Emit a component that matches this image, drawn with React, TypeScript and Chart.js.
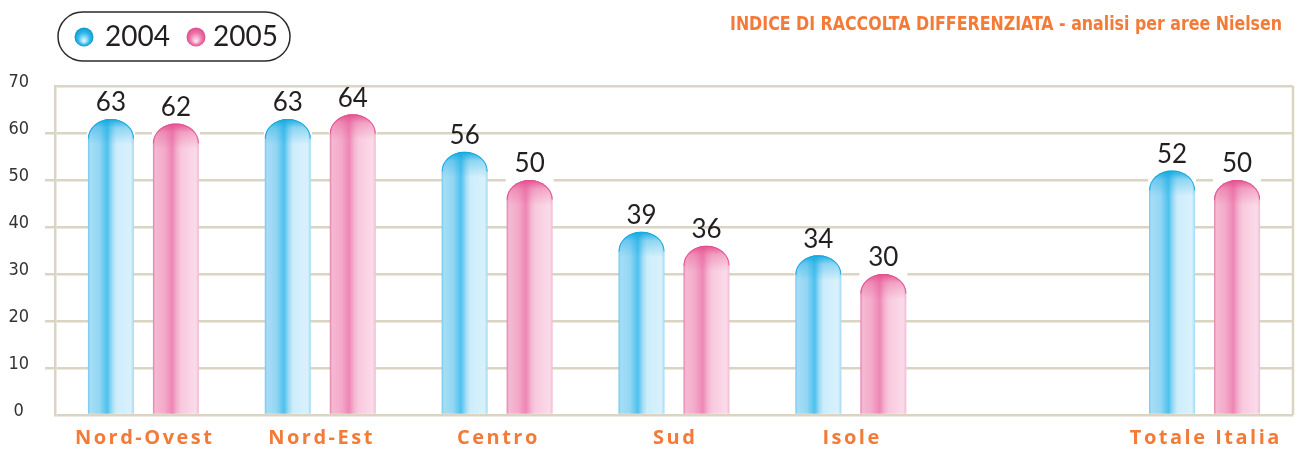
import { useEffect, useRef } from 'react';
import { Chart, registerables } from 'chart.js';

Chart.register(...registerables);

const categories = ['Nord-Ovest', 'Nord-Est', 'Centro', 'Sud', 'Isole', '', 'Totale Italia'];
const values2004 = [63, 63, 56, 39, 34, null, 52];
const values2005 = [62, 64, 50, 36, 30, null, 50];
const seriesLabels = ['2004', '2005'];
const yMin = 0;
const yMax = 70;
const yStep = 10;
const titleText = 'INDICE DI RACCOLTA DIFFERENZIATA - analisi per aree Nielsen';

const ORANGE = '#f47a38';
const GRID = '#d9d5c2';

const palettes = [
  {
    stops: [
      [0, '#72c8ee'], [0.05, '#a6ddf6'], [0.25, '#93d6f4'], [0.42, '#4cc1ee'],
      [0.53, '#a4ddf6'], [0.62, '#cdedfb'], [0.93, '#d8f1fc'], [1, '#a2daf3'],
    ],
    rim: 'rgba(18,168,224,0.95)',
    ball: ['#d4f2fd', '#31b9eb', '#0d95cc'],
  },
  {
    stops: [
      [0, '#e57fad'], [0.05, '#f5b9d3'], [0.25, '#f3aac9'], [0.42, '#ee86b5'],
      [0.53, '#f4b4cf'], [0.62, '#f8c9dd'], [0.93, '#fbdbe9'], [1, '#f1bcd4'],
    ],
    rim: 'rgba(228,78,142,0.95)',
    ball: ['#fde0ec', '#ee74a9', '#d84c8a'],
  },
];

const customPlugin = {
  id: 'customDraw',
  afterDatasetsDraw(chart: any) {
    const ctx: CanvasRenderingContext2D = chart.ctx;
    const area = chart.chartArea;
    ctx.save();
    ctx.strokeStyle = GRID;
    ctx.lineWidth = 2.5;
    ctx.beginPath();
    ctx.moveTo(area.right, area.top);
    ctx.lineTo(area.right, area.bottom);
    ctx.stroke();
    ctx.restore();

    chart.data.datasets.forEach((ds: any, di: number) => {
      const meta = chart.getDatasetMeta(di);
      const pal = palettes[di];
      meta.data.forEach((el: any, i: number) => {
        const v = ds.data[i];
        if (v === null || v === undefined) return;
        const { x, y, base, width } = el.getProps(['x', 'y', 'base', 'width'], true);
        const r = width / 2;
        const ry = r * 0.85;
        const left = x - r;
        ctx.save();
        ctx.fillStyle = '#ffffff';
        ctx.fillRect(left - 1, y - 1, width + 2, ry + 1);
        ctx.beginPath();
        ctx.moveTo(left, base);
        ctx.lineTo(left, y + ry);
        ctx.ellipse(x, y + ry, r, ry, 0, Math.PI, 0);
        ctx.lineTo(left + width, base);
        ctx.closePath();
        const g = ctx.createLinearGradient(left, 0, left + width, 0);
        pal.stops.forEach(([o, c]: any) => g.addColorStop(o, c));
        ctx.fillStyle = g;
        ctx.fill();
        ctx.clip();
        const vg = ctx.createLinearGradient(0, y, 0, y + ry * 1.3);
        vg.addColorStop(0, pal.rim);
        vg.addColorStop(0.35, pal.rim.replace('0.95', '0.35'));
        vg.addColorStop(1, pal.rim.replace('0.95', '0'));
        ctx.fillStyle = vg;
        ctx.fillRect(left, y, width, ry * 1.3);
        ctx.beginPath();
        ctx.ellipse(x, y + ry, r, ry, 0, Math.PI, 0);
        ctx.strokeStyle = pal.rim;
        ctx.lineWidth = 2;
        ctx.stroke();
        ctx.restore();

        ctx.save();
        ctx.fillStyle = '#231f20';
        ctx.font = '26px Lato, "Open Sans", sans-serif';
        ctx.textAlign = 'center';
        ctx.textBaseline = 'bottom';
        ctx.fillText(String(v), x, y - 3);
        ctx.restore();
      });
    });

    const xScale = chart.scales.x;
    ctx.save();
    ctx.fillStyle = ORANGE;
    ctx.font = 'bold 20px "Open Sans", "DejaVu Sans", sans-serif';
    (ctx as any).letterSpacing = '2.5px';
    ctx.textAlign = 'center';
    ctx.textBaseline = 'middle';
    categories.forEach((c, i) => {
      if (!c) return;
      ctx.fillText(c, xScale.getPixelForTick(i) + 1.25, 438);
    });
    ctx.restore();
  },
  afterDraw(chart: any) {
    const ctx: CanvasRenderingContext2D = chart.ctx;
    ctx.save();
    ctx.fillStyle = ORANGE;
    ctx.font = 'bold 19px "DejaVu Sans Condensed", "DejaVu Sans", sans-serif';
    ctx.textBaseline = 'alphabetic';
    const w = ctx.measureText(titleText).width;
    const target = 552;
    const sx = target / w;
    ctx.translate(1282 - target, 29.5);
    ctx.scale(sx, 1);
    ctx.fillText(titleText, 0, 0);
    ctx.restore();

    ctx.save();
    const lx = 58, ly = 12, lw = 232, lh = 49, lr = 24.5;
    ctx.beginPath();
    ctx.roundRect(lx, ly, lw, lh, lr);
    ctx.fillStyle = '#ffffff';
    ctx.fill();
    ctx.strokeStyle = '#2b2b2b';
    ctx.lineWidth = 1.5;
    ctx.stroke();
    const items = [
      { cx: 84, tx: 105 },
      { cx: 196, tx: 213 },
    ];
    items.forEach((it, k) => {
      const pal = palettes[k];
      const cy = 37;
      const rg = ctx.createRadialGradient(it.cx, cy + 4, 1, it.cx, cy, 10);
      rg.addColorStop(0, pal.ball[0]);
      rg.addColorStop(0.55, pal.ball[1]);
      rg.addColorStop(1, pal.ball[2]);
      ctx.beginPath();
      ctx.arc(it.cx, cy, 9.5, 0, Math.PI * 2);
      ctx.fillStyle = rg;
      ctx.fill();
      ctx.fillStyle = '#231f20';
      ctx.font = '28px Lato, "Open Sans", sans-serif';
      ctx.textAlign = 'left';
      ctx.textBaseline = 'middle';
      ctx.fillText(seriesLabels[k], it.tx, 37);
    });
    ctx.restore();
  },
};

export default function App() {
  const canvasRef = useRef<HTMLCanvasElement | null>(null);

  useEffect(() => {
    document.body.style.margin = '0';
    const canvas = canvasRef.current;
    if (!canvas) return;
    const chart = new Chart(canvas, {
      type: 'bar',
      data: {
        labels: categories,
        datasets: [
          { label: seriesLabels[0], data: values2004 as any, backgroundColor: 'rgba(0,0,0,0)', borderWidth: 0 },
          { label: seriesLabels[1], data: values2005 as any, backgroundColor: 'rgba(0,0,0,0)', borderWidth: 0 },
        ],
      },
      options: {
        animation: false,
        responsive: false,
        devicePixelRatio: 1,
        layout: { padding: { top: 86, right: 4, left: 0, bottom: 0 } },
        datasets: {
          bar: { categoryPercentage: 0.735, barPercentage: 0.708 },
        },
        plugins: {
          legend: { display: false },
          title: { display: false },
          tooltip: { enabled: false },
        },
        scales: {
          x: {
            grid: { display: false },
            border: { display: false },
            ticks: { display: false },
            afterFit: (s: any) => { s.height = 35; },
          },
          y: {
            min: yMin,
            max: yMax,
            ticks: {
              stepSize: yStep,
              color: '#333333',
              font: { family: '"DejaVu Sans Condensed", "DejaVu Sans", sans-serif', size: 18 },
              padding: 16,
              crossAlign: 'center',
              labelOffset: -4,
            },
            grid: {
              color: GRID,
              lineWidth: 2.5,
              tickLength: 10,
              tickColor: (c: any) => (c.tick && (c.tick.value === yMin || c.tick.value === yMax) ? 'rgba(0,0,0,0)' : GRID),
            },
            border: { display: true, color: GRID, width: 2.5 },
            afterFit: (s: any) => { s.width = 55; },
          },
        },
      },
      plugins: [customPlugin],
    });
    return () => chart.destroy();
  }, []);

  return (
    <div style={{ width: 1297, height: 450, background: '#ffffff' }}>
      <canvas ref={canvasRef} width={1297} height={450} style={{ display: 'block', width: 1297, height: 450 }} />
    </div>
  );
}
